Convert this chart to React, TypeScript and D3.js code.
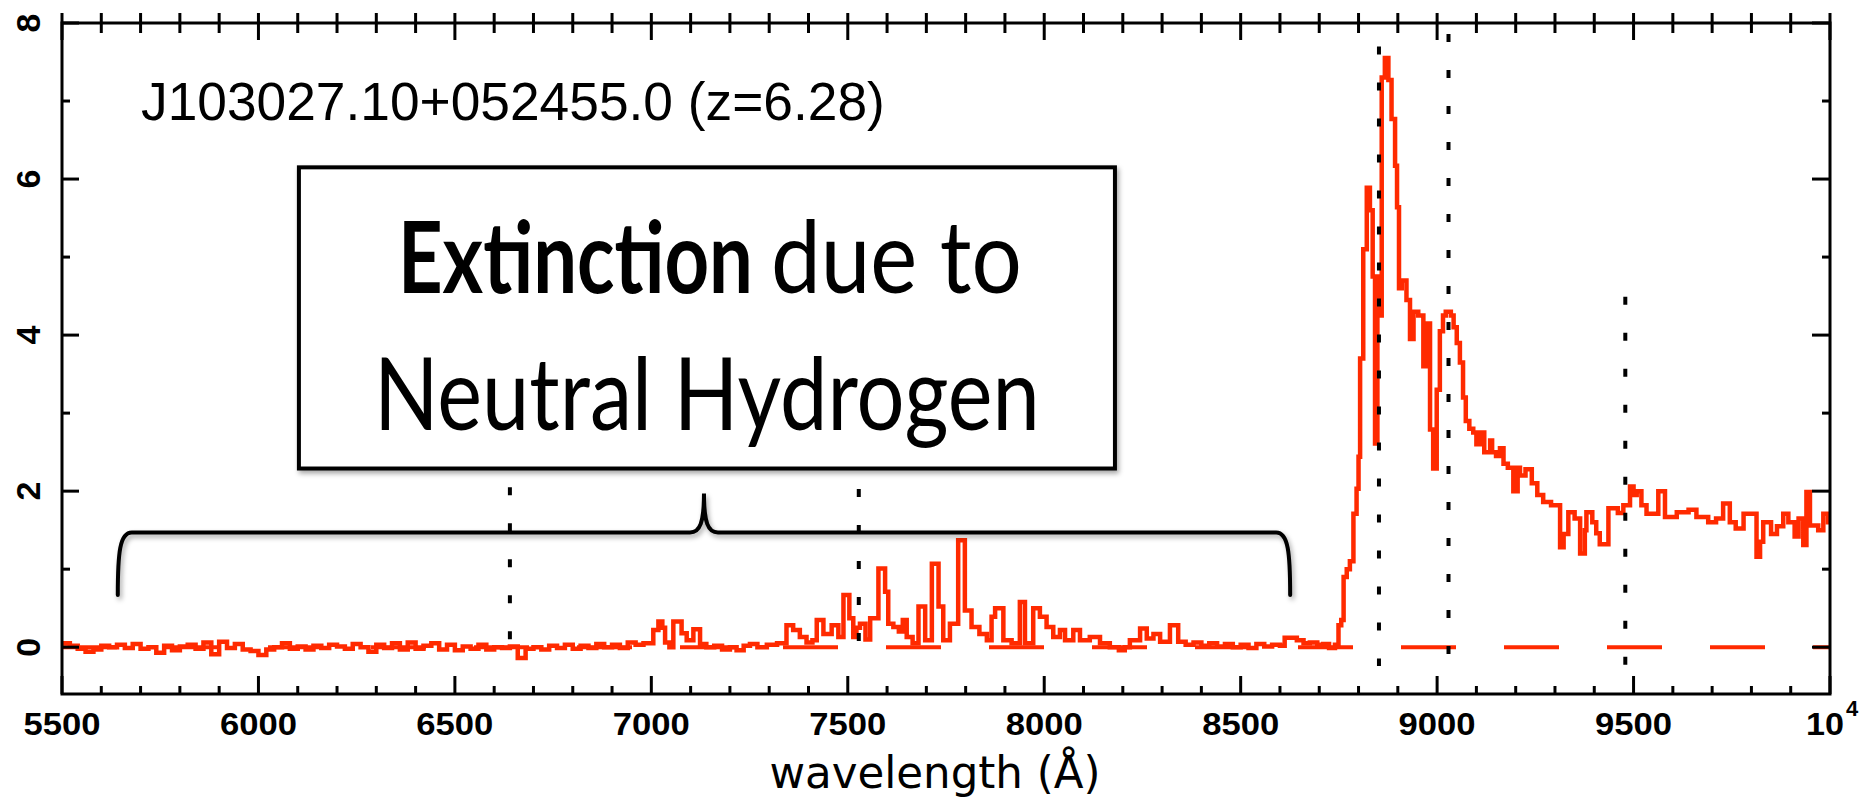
import React, { useRef, useEffect } from 'react'
import * as d3 from 'd3'

// flux (1e-17 erg/s/cm2/A), [wavelength, flux] step starts
const blueFlux: [number, number][] = [
  [5500, 0.05], [5520, 0.02], [5540, -0.02], [5560, -0.06], [5580, -0.03], [5600, 0.02],
  [5620, 0.0], [5640, 0.03], [5660, -0.01], [5680, 0.04], [5700, -0.02], [5720, 0.0],
  [5740, -0.07], [5760, 0.02], [5780, -0.04], [5800, 0.01], [5820, 0.03], [5840, -0.02],
  [5860, 0.06], [5880, -0.09], [5900, 0.07], [5920, -0.01], [5940, 0.04], [5960, -0.03],
  [5980, -0.05], [6000, -0.1], [6020, -0.03], [6040, 0.0], [6060, 0.05], [6080, -0.02],
  [6100, 0.01], [6120, -0.03], [6140, 0.02], [6160, -0.01], [6180, 0.03], [6200, 0.01],
  [6220, -0.02], [6240, 0.04], [6260, 0.0], [6280, -0.06], [6300, 0.03], [6320, -0.01],
  [6340, 0.05], [6360, -0.03], [6380, 0.06], [6400, -0.02], [6420, 0.02], [6440, 0.05],
  [6460, -0.03], [6480, 0.03], [6500, -0.04], [6520, 0.01], [6540, -0.02], [6560, 0.03],
  [6580, -0.03], [6600, 0.0], [6620, -0.01], [6640, 0.01], [6660, -0.14], [6680, -0.02],
  [6700, 0.0], [6720, -0.03], [6740, 0.02], [6760, -0.01], [6780, 0.03], [6800, -0.02],
  [6820, 0.02], [6840, -0.01], [6860, 0.04], [6880, 0.0], [6900, 0.03], [6920, -0.01],
  [6940, 0.06], [6960, 0.03], [6980, 0.05],
]

const forestFlux: [number, number][] = [
  [7000, 0.05], [7005, 0.22], [7018, 0.33], [7028, 0.25], [7035, 0.06], [7046, 0.0],
  [7056, 0.33], [7077, 0.18], [7090, 0.09], [7107, 0.23], [7124, 0.04], [7140, 0.0],
  [7160, 0.02], [7180, -0.03], [7200, 0.0], [7217, -0.04], [7235, 0.02], [7251, 0.04],
  [7270, 0.0], [7294, 0.03], [7320, 0.05], [7344, 0.28], [7361, 0.22], [7378, 0.13],
  [7395, 0.06], [7410, 0.09], [7421, 0.35], [7438, 0.17], [7459, 0.28], [7476, 0.13],
  [7489, 0.67], [7504, 0.37], [7514, 0.13], [7522, 0.25], [7531, 0.3], [7545, 0.1],
  [7557, 0.37], [7578, 1.01], [7595, 0.71], [7603, 0.3], [7616, 0.26], [7630, 0.2],
  [7640, 0.35], [7650, 0.13], [7665, 0.05], [7680, 0.52], [7697, 0.09], [7714, 1.07],
  [7731, 0.52], [7743, 0.09], [7760, 0.3], [7781, 1.37], [7798, 0.47], [7815, 0.26],
  [7835, 0.17], [7854, 0.09], [7866, 0.39], [7875, 0.5], [7896, 0.09], [7917, 0.05],
  [7938, 0.58], [7951, 0.05], [7972, 0.5], [7989, 0.39], [8006, 0.26], [8023, 0.13],
  [8040, 0.22], [8053, 0.09], [8074, 0.22], [8091, 0.09], [8116, 0.13], [8142, 0.05],
  [8167, 0.0], [8190, -0.04], [8205, 0.0], [8218, 0.09], [8244, 0.24], [8261, 0.11],
  [8278, 0.17], [8295, 0.07], [8320, 0.28], [8341, 0.07], [8360, 0.03], [8380, 0.06],
  [8400, 0.02], [8420, 0.05], [8440, 0.01], [8460, 0.04], [8480, 0.0], [8500, 0.03],
  [8520, -0.01], [8540, 0.04], [8560, 0.01], [8580, 0.03], [8600, 0.02], [8612, 0.12],
  [8643, 0.09], [8660, 0.05], [8676, 0.06], [8695, 0.03], [8710, 0.04], [8725, -0.01],
  [8740, 0.03],
]

const peakFlux: [number, number][] = [
  [8749, 0.28], [8756, 0.35], [8762, 0.9], [8770, 1.0], [8778, 1.1], [8787, 1.71],
  [8795, 2.03], [8800, 2.44], [8804, 3.7], [8812, 5.1], [8821, 5.89], [8829, 5.6],
  [8836, 4.75], [8842, 2.61], [8848, 4.75], [8853, 4.25], [8859, 7.3], [8867, 7.55],
  [8876, 7.27], [8884, 6.77], [8893, 6.17], [8898, 5.64], [8903, 4.6], [8910, 4.7],
  [8922, 4.45], [8931, 3.95], [8940, 4.3], [8952, 4.25], [8965, 3.6], [8973, 4.15],
  [8982, 2.79], [8990, 2.29], [8999, 3.3], [9007, 4.05], [9015, 4.25], [9022, 4.3],
  [9035, 4.25], [9042, 4.1], [9050, 3.9], [9058, 3.65], [9066, 3.2], [9073, 2.9],
  [9082, 2.8], [9092, 2.75],
]

const redFlux: [number, number][] = [
  [9100, 2.6], [9110, 2.75], [9120, 2.5], [9135, 2.65], [9140, 2.5], [9150, 2.45],
  [9160, 2.55], [9169, 2.35], [9180, 2.3], [9194, 2.0], [9205, 2.3], [9211, 2.2],
  [9225, 2.28], [9241, 2.1], [9255, 1.95], [9270, 1.86], [9290, 1.82], [9313, 1.28],
  [9322, 1.45], [9334, 1.73], [9350, 1.65], [9364, 1.2], [9376, 1.5], [9380, 1.73],
  [9395, 1.6], [9405, 1.46], [9414, 1.32], [9436, 1.78], [9460, 1.72], [9474, 1.82],
  [9491, 2.06], [9500, 1.95], [9508, 2.0], [9520, 1.82], [9533, 1.71], [9563, 2.0],
  [9580, 1.67], [9610, 1.73], [9640, 1.76], [9660, 1.67], [9690, 1.6], [9710, 1.65],
  [9728, 1.84], [9745, 1.6], [9760, 1.52], [9780, 1.71], [9813, 1.16], [9822, 1.35],
  [9830, 1.6], [9850, 1.45], [9865, 1.55], [9881, 1.71], [9894, 1.6], [9910, 1.42],
  [9920, 1.65], [9932, 1.31], [9940, 1.99], [9949, 1.56], [9970, 1.5], [9983, 1.71],
  [9995, 1.6], [10000, 1.6],
]

// dotted line markers (Lyman limit, OVI, Lya, NV, OI at z=6.28)
const lineWaves = [6640, 7528, 8852, 9029, 9479]
const lineTops = [2.05, 2.95, 7.7, 7.86, 4.49]
const lineBottoms = [0.07, 0.05, -0.24, -0.09, -0.28]

const xMajorTicks = [5500, 6000, 6500, 7000, 7500, 8000, 8500, 9000, 9500, 10000]
const xTickLabels = ['5500', '6000', '6500', '7000', '7500', '8000', '8500', '9000', '9500', '10']
const yMajorTicks = [0, 2, 4, 6, 8]
const yMinorTicks = [1, 3, 5, 7]

const title = 'J103027.10+052455.0 (z=6.28)'
const xLabel = 'wavelength (Å)'

// annotation box and bracket in data units
const boxWave = [6103, 8180]
const boxFlux = [2.29, 6.15]
const bracketWave = [5642, 7134, 8626]
const bracketFlux = [0.67, 1.47, 1.97]

const RED = '#ff2a00'

export default function App() {
  const ref = useRef<SVGSVGElement>(null)
  const width = 1875
  const height = 799
  const x = d3.scaleLinear().domain([5500, 10000]).range([62, 1830])
  const y = d3.scaleLinear().domain([-0.6, 8]).range([694, 23])

  // squeeze texts horizontally to their measured width in the reference
  useEffect(() => {
    if (!ref.current) return
    d3.select(ref.current).selectAll<SVGTextElement, unknown>('text[data-w]').each(function () {
      const natural = this.getComputedTextLength()
      const target = Number(this.getAttribute('data-w'))
      const tx = this.getAttribute('data-x')
      const ty = this.getAttribute('data-y')
      if (natural > 0) this.setAttribute('transform', `translate(${tx},${ty}) scale(${target / natural},1)`)
    })
  }, [])

  const spectrum = [...blueFlux, ...forestFlux, ...peakFlux, ...redFlux]
  const line = d3.line<[number, number]>()
    .x(d => x(d[0]))
    .y(d => y(d[1]))
    .curve(d3.curveStepAfter)

  const xMinor = d3.range(5500, 10001, 100).filter(v => !xMajorTicks.includes(v))
  const left = x(5500), right = x(10000), top = y(8), bottom = y(-0.6)

  const bx0 = x(boxWave[0]), bx1 = x(boxWave[1])
  const by0 = y(boxFlux[1]), by1 = y(boxFlux[0])

  const L = x(bracketWave[0]), T = x(bracketWave[1]), R = x(bracketWave[2])
  const E = y(bracketFlux[0]), H = y(bracketFlux[1]), P = y(bracketFlux[2])
  const bracket = `M${L},${E} C${L},${H + 20} ${L + 2},${H} ${L + 14},${H} L${T - 14},${H} ` +
    `C${T - 4},${H} ${T},${H - 10} ${T},${P} C${T},${H - 10} ${T + 4},${H} ${T + 14},${H} ` +
    `L${R - 14},${H} C${R - 2},${H} ${R},${H + 20} ${R},${E}`

  const tickFont = "'Liberation Sans', Arial, sans-serif"
  const boxFont = "Lato, 'Open Sans', sans-serif"

  const fitText = (tx: number, ty: number, w: number) => ({
    'data-x': tx, 'data-y': ty, 'data-w': w, transform: `translate(${tx},${ty})`,
  })

  return (
    <svg ref={ref} width={width} height={height} style={{ position: 'absolute', left: 0, top: 0, background: '#fff' }}>
      <defs>
        <filter id="shadow" x="-5%" y="-5%" width="110%" height="120%">
          <feDropShadow dx="2" dy="3" stdDeviation="2.5" floodColor="#000" floodOpacity="0.35" />
        </filter>
      </defs>
      <rect width={width} height={height} fill="#fff" />

      {/* zero level */}
      <line x1={left} x2={right} y1={y(0)} y2={y(0)} stroke={RED} strokeWidth={4} strokeDasharray="55 48" />

      {/* spectrum */}
      <path d={line(spectrum) ?? ''} fill="none" stroke={RED} strokeWidth={4.5} strokeLinejoin="miter" />

      {/* line markers */}
      {lineWaves.map((w, i) => (
        <line key={w} x1={x(w)} x2={x(w)} y1={y(lineTops[i])} y2={y(lineBottoms[i])}
          stroke="#000" strokeWidth={4} strokeDasharray="8 28" />
      ))}

      {/* annotation box */}
      <rect x={bx0} y={by0} width={bx1 - bx0} height={by1 - by0} fill="#fff" stroke="#000"
        strokeWidth={4} filter="url(#shadow)" />
      <text {...fitText(bx0 + 99, by0 + 126, 355)} fontFamily={boxFont} fontWeight={700} fontSize={100}>Extinction</text>
      <text {...fitText(bx0 + 472, by0 + 126, 251)} fontFamily={boxFont} fontWeight={400} fontSize={100}>due to</text>
      <text {...fitText(bx0 + 75, by0 + 263, 666)} fontFamily={boxFont} fontWeight={400} fontSize={100}>Neutral Hydrogen</text>

      {/* bracket */}
      <path d={bracket} fill="none" stroke="#000" strokeWidth={4} strokeLinecap="round" filter="url(#shadow)" />

      {/* title */}
      <text {...fitText(141, 120, 744)} fontFamily={tickFont} fontSize={53}>{title}</text>

      {/* frame */}
      <rect x={left} y={top} width={right - left} height={bottom - top} fill="none" stroke="#000" strokeWidth={3} />

      {/* x ticks bottom and top */}
      {xMajorTicks.map(v => (
        <g key={'xM' + v}>
          <line x1={x(v)} x2={x(v)} y1={bottom} y2={bottom - 18} stroke="#000" strokeWidth={3} />
          <line x1={x(v)} x2={x(v)} y1={top - 10} y2={top + 17} stroke="#000" strokeWidth={3} />
        </g>
      ))}
      {xMinor.map(v => (
        <g key={'xm' + v}>
          <line x1={x(v)} x2={x(v)} y1={bottom} y2={bottom - 8} stroke="#000" strokeWidth={3} />
          <line x1={x(v)} x2={x(v)} y1={top - 10} y2={top + 10} stroke="#000" strokeWidth={3} />
        </g>
      ))}

      {/* y ticks left and right */}
      {yMajorTicks.map(v => (
        <g key={'yM' + v}>
          <line x1={left} x2={left + 17} y1={y(v)} y2={y(v)} stroke="#000" strokeWidth={3} />
          <line x1={right} x2={right - 18} y1={y(v)} y2={y(v)} stroke="#000" strokeWidth={3} />
        </g>
      ))}
      {yMinorTicks.map(v => (
        <g key={'ym' + v}>
          <line x1={left} x2={left + 8} y1={y(v)} y2={y(v)} stroke="#000" strokeWidth={3} />
          <line x1={right} x2={right - 8} y1={y(v)} y2={y(v)} stroke="#000" strokeWidth={3} />
        </g>
      ))}

      {/* x tick labels */}
      {xMajorTicks.map((v, i) => (
        i < xMajorTicks.length - 1 ? (
          <text key={'xl' + v} x={x(v)} y={735} textAnchor="middle" fontFamily={tickFont}
            fontWeight={700} fontSize={32} textLength={77} lengthAdjust="spacingAndGlyphs">{xTickLabels[i]}</text>
        ) : (
          <g key={'xl' + v}>
            <text x={x(v) - 5} y={735} textAnchor="middle" fontFamily={tickFont} fontWeight={700}
              fontSize={32} textLength={38} lengthAdjust="spacingAndGlyphs">{xTickLabels[i]}</text>
            <text x={x(v) + 16} y={716} fontFamily={tickFont} fontWeight={700} fontSize={22}>4</text>
          </g>
        )
      ))}

      {/* y tick labels, rotated */}
      {yMajorTicks.map(v => (
        <text key={'yl' + v} transform={`translate(40,${y(v)}) rotate(-90)`} textAnchor="middle"
          fontFamily={tickFont} fontWeight={700} fontSize={34}>{v}</text>
      ))}

      {/* axis label */}
      <text x={935} y={788} textAnchor="middle" fontFamily="'DejaVu Sans', sans-serif" fontSize={44}
        textLength={331} lengthAdjust="spacingAndGlyphs">{xLabel}</text>
    </svg>
  )
}
